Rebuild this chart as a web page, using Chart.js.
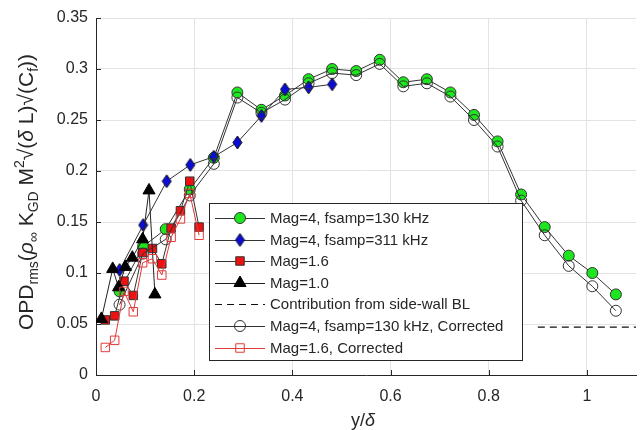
<!DOCTYPE html>
<html>
<head>
<meta charset="utf-8">
<script src="https://cdn.jsdelivr.net/npm/chart.js@4.4.1/dist/chart.umd.min.js"></script>
<style>
  body { margin: 0; background: #fff; }
</style>
</head>
<body>
<canvas id="c" width="644" height="430"></canvas>
<script>
// data
const xTicks = [0, 0.2, 0.4, 0.6, 0.8, 1];
const yTicks = [0, 0.05, 0.1, 0.15, 0.2, 0.25, 0.3, 0.35];

const mag4_x = [0.048, 0.096, 0.142, 0.191, 0.240, 0.288, 0.337, 0.385, 0.433, 0.481, 0.530,
                0.578, 0.626, 0.674, 0.722, 0.770, 0.818, 0.866, 0.914, 0.963, 1.011, 1.059];
const mag4_y = [0.082, 0.126, 0.143, 0.182, 0.213, 0.277, 0.260, 0.274, 0.290, 0.300, 0.298,
                0.309, 0.287, 0.290, 0.277, 0.255, 0.229, 0.177, 0.145, 0.117, 0.100, 0.079];
const mag4corr_y = [0.069, 0.119, 0.133, 0.176, 0.207, 0.272, 0.257, 0.270, 0.286, 0.296, 0.294,
                    0.305, 0.283, 0.286, 0.273, 0.250, 0.224, 0.171, 0.137, 0.107, 0.087, 0.063];

const mag4hi_x = [0.048, 0.096, 0.144, 0.192, 0.240, 0.288, 0.337, 0.385, 0.433, 0.481];
const mag4hi_y = [0.103, 0.147, 0.190, 0.206, 0.214, 0.228, 0.254, 0.280, 0.282, 0.285];

const mag16_x = [0.019, 0.038, 0.057, 0.076, 0.095, 0.115, 0.134, 0.153, 0.172, 0.191, 0.210];
const mag16_y = [0.054, 0.058, 0.092, 0.078, 0.120, 0.124, 0.109, 0.144, 0.161, 0.190, 0.145];
const mag16corr_y = [0.027, 0.034, 0.082, 0.062, 0.110, 0.114, 0.098, 0.135, 0.153, 0.178, 0.137];

const mag10_x = [0.011, 0.034, 0.046, 0.060, 0.074, 0.095, 0.108, 0.120];
const mag10_y = [0.055, 0.104, 0.086, 0.106, 0.115, 0.133, 0.181, 0.079];

const wallBL_x = [0.9, 1.1];
const wallBL_y = [0.047, 0.047];

const FONT = '"Liberation Sans", Arial, Helvetica, sans-serif';
const INK = '#262626';

function pts(xs, ys) { return xs.map((x, i) => ({ x: x, y: ys[i] })); }

// tall MATLAB-style diamond marker
function diamond(w, h, fill, stroke) {
  const c = document.createElement('canvas');
  c.width = w + 2; c.height = h + 2;
  const g = c.getContext('2d');
  g.beginPath();
  g.moveTo(c.width / 2, 1);
  g.lineTo(c.width - 1, c.height / 2);
  g.lineTo(c.width / 2, c.height - 1);
  g.lineTo(1, c.height / 2);
  g.closePath();
  g.fillStyle = fill; g.fill();
  g.strokeStyle = stroke; g.lineWidth = 1; g.stroke();
  return c;
}
const blueDiamond = diamond(9, 13, '#0c0cd8', '#111');

const datasets = [
  { label: 'Mag=4, fsamp=130 kHz', data: pts(mag4_x, mag4_y), borderColor: '#333', borderWidth: 1,
    pointStyle: 'circle', pointRadius: 5.5, pointBackgroundColor: '#1ee61e', pointBorderColor: '#333', order: 7 },
  { label: 'Mag=4, fsamp=311 kHz', data: pts(mag4hi_x, mag4hi_y), borderColor: '#333', borderWidth: 1,
    pointStyle: blueDiamond, pointRadius: 6, order: 6 },
  { label: 'Mag=1.6', data: pts(mag16_x, mag16_y), borderColor: '#333', borderWidth: 1,
    pointStyle: 'rect', pointRadius: 6, pointBackgroundColor: '#ee1111', pointBorderColor: '#333', order: 5 },
  { label: 'Mag=1.0', data: pts(mag10_x, mag10_y), borderColor: '#222', borderWidth: 1,
    pointStyle: 'triangle', pointRadius: 7, pointBackgroundColor: '#000', pointBorderColor: '#000', order: 4 },
  { label: 'Contribution from side-wall BL', data: pts(wallBL_x, wallBL_y), borderColor: '#111', borderWidth: 1.2,
    borderDash: [7, 5], pointRadius: 0, order: 3 },
  { label: 'Mag=4, fsamp=130 kHz, Corrected', data: pts(mag4_x, mag4corr_y), borderColor: '#333', borderWidth: 1,
    pointStyle: 'circle', pointRadius: 5.5, pointBackgroundColor: 'rgba(0,0,0,0)', pointBorderColor: '#333', order: 2 },
  { label: 'Mag=1.6, Corrected', data: pts(mag16_x, mag16corr_y), borderColor: '#e23a3a', borderWidth: 1,
    pointStyle: 'rect', pointRadius: 6, pointBackgroundColor: 'rgba(0,0,0,0)', pointBorderColor: '#e23a3a', order: 1 }
];

// legend box inside the axes, like MATLAB
const boxLegend = {
  id: 'boxLegend',
  afterDraw(chart) {
    const ctx = chart.ctx;
    const L = 209.5, T = 203.5, W = 313, H = 157, row = 21.6;
    ctx.save();
    ctx.fillStyle = '#fff';
    ctx.fillRect(L, T, W, H);
    ctx.strokeStyle = INK; ctx.lineWidth = 1;
    ctx.strokeRect(L, T, W, H);
    chart.data.datasets.forEach((ds, i) => {
      const y = Math.round(218 + i * row);
      ctx.setLineDash(ds.borderDash || []);
      ctx.strokeStyle = ds.borderColor; ctx.lineWidth = 1;
      ctx.beginPath(); ctx.moveTo(215, y + 0.5); ctx.lineTo(265, y + 0.5); ctx.stroke();
      ctx.setLineDash([]);
      if (ds.pointRadius > 0) {
        ctx.fillStyle = ds.pointBackgroundColor || '#000';
        ctx.strokeStyle = ds.pointBorderColor || '#000';
        Chart.helpers.drawPoint(ctx, { pointStyle: ds.pointStyle, radius: ds.pointRadius, rotation: 0, borderWidth: 1 }, 240, y);
      }
      ctx.fillStyle = INK;
      ctx.font = '15px ' + FONT;
      ctx.textBaseline = 'middle';
      ctx.fillText(ds.label, 270, y + 1);
    });
    ctx.restore();
  }
};

// inward tick marks and axis titles
const axisDecor = {
  id: 'axisDecor',
  afterDraw(chart) {
    const ctx = chart.ctx, xs = chart.scales.x, ys = chart.scales.y, a = chart.chartArea;
    ctx.save();
    ctx.strokeStyle = INK; ctx.lineWidth = 1;
    ctx.beginPath();
    xTicks.forEach(v => {
      const px = Math.round(xs.getPixelForValue(v)) + 0.5;
      ctx.moveTo(px, a.bottom); ctx.lineTo(px, a.bottom - 5);
    });
    yTicks.forEach(v => {
      const py = Math.round(ys.getPixelForValue(v)) + 0.5;
      ctx.moveTo(a.left, py); ctx.lineTo(a.left + 5, py);
    });
    ctx.stroke();

    // x title: y/δ
    ctx.fillStyle = INK;
    ctx.textBaseline = 'alphabetic';
    ctx.font = '18px ' + FONT;
    const w1 = ctx.measureText('y/').width;
    ctx.font = 'italic 18px ' + FONT;
    const w2 = ctx.measureText('δ').width;
    const cx = (a.left + a.right) / 2 - 3;
    ctx.font = '18px ' + FONT;
    ctx.fillText('y/', cx - (w1 + w2) / 2, 426);
    ctx.font = 'italic 18px ' + FONT;
    ctx.fillText('δ', cx - (w1 + w2) / 2 + w1, 426);

    // y title with sub/superscripts
    const big = 21, small = 14;
    const parts = [
      ['OPD', 0], ['rms', 1], ['(', 0], ['ρ', 0, true], ['∞', 1], [' K', 0], ['GD', 1], [' M', 0], ['2', 2],
      ['√(', 0], ['δ', 0, true], [' L)√(C', 0], ['f', 1], ['))', 0]
    ];
    const fontOf = p => (p[2] ? 'italic ' : '') + (p[1] ? small : big) + 'px ' + FONT;
    let total = 0;
    parts.forEach(p => { ctx.font = fontOf(p); total += ctx.measureText(p[0]).width; });
    ctx.translate(33, 192);
    ctx.rotate(-Math.PI / 2);
    let x = -total / 2;
    parts.forEach(p => {
      ctx.font = fontOf(p);
      const dy = p[1] === 1 ? 5 : (p[1] === 2 ? -9 : 0);
      ctx.fillText(p[0], x, dy);
      x += ctx.measureText(p[0]).width;
    });
    ctx.restore();
  }
};

new Chart(document.getElementById('c'), {
  type: 'scatter',
  data: { datasets: datasets.map(d => Object.assign({ showLine: true, fill: false, pointBorderWidth: 1 }, d)) },
  options: {
    responsive: false,
    animation: false,
    devicePixelRatio: 1,
    layout: { padding: { left: 0, right: 7, top: 18, bottom: 0 } },
    plugins: { legend: { display: false }, tooltip: { enabled: false } },
    scales: {
      x: {
        type: 'linear', min: 0, max: 1.1,
        afterBuildTicks: s => { s.ticks = xTicks.map(v => ({ value: v })); },
        afterFit: s => { s.height = 55; },
        ticks: { color: INK, font: { family: FONT, size: 16 }, padding: 12, maxRotation: 0,
                 callback: v => String(+v.toFixed(2)) },
        grid: { color: '#e3e3e3', drawTicks: false },
        border: { color: INK, width: 1 }
      },
      y: {
        type: 'linear', min: 0, max: 0.35,
        afterBuildTicks: s => { s.ticks = yTicks.map(v => ({ value: v })); },
        afterFit: s => { s.width = 96; },
        ticks: { color: INK, font: { family: FONT, size: 16 }, padding: 8,
                 callback: v => String(+v.toFixed(2)) },
        grid: { color: '#e3e3e3', drawTicks: false },
        border: { color: INK, width: 1 }
      }
    }
  },
  plugins: [boxLegend, axisDecor]
});
</script>
</body>
</html>
